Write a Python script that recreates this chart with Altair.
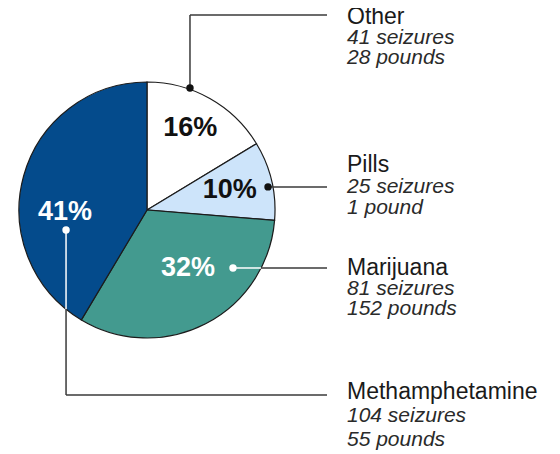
import math
import altair as alt
import pandas as pd

# ---------------- data ----------------
categories = ["Other", "Pills", "Marijuana", "Methamphetamine"]
seizures = [41, 25, 81, 104]
pounds = [28, 1, 152, 55]
percent_labels = ["16%", "10%", "32%", "41%"]

# ---------------- styles ----------------
slice_colors = ["#ffffff", "#cde4fa", "#439a8f", "#044b8c"]
pct_text_colors = ["#111111", "#111111", "#ffffff", "#ffffff"]
dot_colors = ["#111111", "#111111", "#ffffff", "#ffffff"]
LINE_GRAY = "#3a3a3a"
FONT = "Liberation Sans"

# ---------------- layout (page pixel frame) ----------------
W, H = 544, 446
CX, CY, R = 147, 210, 128
# percentage label anchor: (angle clockwise from top in degrees, distance from centre)
pct_anchor = [(27.7, 93), (76.5, 85), (144.7, 71), (268.6, 82)]
# leader dot anchor on each slice
dot_anchor = [(19.4, 129.4), (79.2, 123.2), (124.0, 103.7), (256.1, 83.4)]
leader_end_x = 327
elbow_y = [15, None, None, 395]
label_x = 347
title_baseline = [24, 172, 275, 398.5]
line_gaps = [(19.5, 20), (21, 20.5), (20, 20), (23.5, 24)]


def polar(angle, dist):
    a = math.radians(angle)
    return CX + dist * math.sin(a), CY - dist * math.cos(a)


xs = alt.Scale(domain=[8, 8 + W], range=[0, W], nice=False, zero=False)
ys = alt.Scale(domain=[8, 8 + H], range=[0, H], nice=False, zero=False)

# ---------------- pie ----------------
pie_df = pd.DataFrame({
    "category": categories,
    "seizures": seizures,
    "order": list(range(len(categories))),
    "fill": slice_colors,
})
pie = alt.Chart(pie_df).mark_arc(radius=R, stroke="#1c1c1c", strokeWidth=1.2).encode(
    theta=alt.Theta("seizures:Q", stack=True),
    order=alt.Order("order:Q"),
    color=alt.Color("fill:N", scale=None),
    x=alt.value(CX - 8),
    y=alt.value(CY - 8),
)

# ---------------- percentage labels ----------------
pct_rows = []
for i, lab in enumerate(percent_labels):
    px, py = polar(*pct_anchor[i])
    pct_rows.append({"x": px, "y": py, "label": lab, "col": pct_text_colors[i]})
pct_df = pd.DataFrame(pct_rows)
pct = alt.Chart(pct_df).mark_text(
    font=FONT, fontSize=27, fontWeight="bold", align="center", baseline="middle"
).encode(
    x=alt.X("x:Q", scale=xs, axis=None),
    y=alt.Y("y:Q", scale=ys, axis=None),
    text="label:N",
    color=alt.Color("col:N", scale=None),
)

# ---------------- leader lines ----------------
def inside(px, py):
    return (px - CX) ** 2 + (py - CY) ** 2 < R ** 2


def split_segment(x1, y1, x2, y2, inner_col, outer_col):
    """split an axis-aligned segment at the pie's rim"""
    segs = []
    if y1 == y2:
        dy = y1 - CY
        if abs(dy) < R:
            rim = CX + math.sqrt(R ** 2 - dy ** 2)
            if x1 < rim < x2:
                segs.append((x1, y1, rim, y2, inner_col))
                segs.append((rim, y1, x2, y2, outer_col))
                return segs
    else:
        dx = x1 - CX
        if abs(dx) < R:
            rim = CY + math.sqrt(R ** 2 - dx ** 2)
            if y1 < rim < y2:
                segs.append((x1, y1, x2, rim, inner_col))
                segs.append((x1, rim, x2, y2, outer_col))
                return segs
    col = inner_col if inside((x1 + x2) / 2, (y1 + y2) / 2) else outer_col
    segs.append((x1, y1, x2, y2, col))
    return segs


seg_rows = []
dot_rows = []
for i in range(len(categories)):
    dx, dy = polar(*dot_anchor[i])
    dot_rows.append({"x": dx, "y": dy, "col": dot_colors[i]})
    inner = "#ffffff" if dot_colors[i] == "#ffffff" else LINE_GRAY
    segs = []
    if elbow_y[i] is not None:
        ey = elbow_y[i]
        if ey < dy:
            segs += [(dx, ey, dx, dy, LINE_GRAY)]
        else:
            segs += split_segment(dx, dy, dx, ey, inner, LINE_GRAY)
        segs += [(dx, ey, leader_end_x, ey, LINE_GRAY)]
    else:
        segs += split_segment(dx, dy, leader_end_x, dy, inner, LINE_GRAY)
    for s in segs:
        seg_rows.append({"x": s[0], "y": s[1], "x2": s[2], "y2": s[3], "col": s[4]})

seg_df = pd.DataFrame(seg_rows)
leaders = alt.Chart(seg_df).mark_rule(strokeWidth=1.5).encode(
    x=alt.X("x:Q", scale=xs, axis=None),
    y=alt.Y("y:Q", scale=ys, axis=None),
    x2="x2:Q",
    y2="y2:Q",
    color=alt.Color("col:N", scale=None),
)

dot_df = pd.DataFrame(dot_rows)
dots = alt.Chart(dot_df).mark_circle(size=55, opacity=1).encode(
    x=alt.X("x:Q", scale=xs, axis=None),
    y=alt.Y("y:Q", scale=ys, axis=None),
    color=alt.Color("col:N", scale=None),
)

# ---------------- category labels ----------------
title_rows = []
detail_rows = []
for i, cat in enumerate(categories):
    g1, g2 = line_gaps[i]
    title_rows.append({"x": label_x, "y": title_baseline[i], "label": cat})
    unit = "pound" if pounds[i] == 1 else "pounds"
    detail_rows.append({"x": label_x, "y": title_baseline[i] + g1,
                        "label": f"{seizures[i]} seizures"})
    detail_rows.append({"x": label_x, "y": title_baseline[i] + g1 + g2,
                        "label": f"{pounds[i]} {unit}"})

titles = alt.Chart(pd.DataFrame(title_rows)).mark_text(
    font=FONT, fontSize=23, align="left", baseline="alphabetic", color="#1a1a1a"
).encode(
    x=alt.X("x:Q", scale=xs, axis=None),
    y=alt.Y("y:Q", scale=ys, axis=None),
    text="label:N",
)
details = alt.Chart(pd.DataFrame(detail_rows)).mark_text(
    font=FONT, fontSize=21, fontStyle="italic", align="left", baseline="alphabetic",
    color="#2a2a2a"
).encode(
    x=alt.X("x:Q", scale=xs, axis=None),
    y=alt.Y("y:Q", scale=ys, axis=None),
    text="label:N",
)

chart = alt.layer(pie, pct, leaders, dots, titles, details).properties(
    width=W, height=H, padding=0, autosize=alt.AutoSizeParams(type="none"),
    background="#ffffff",
).configure_view(stroke=None)

chart.save("out.html", embed_options={"renderer": "svg", "actions": False})
